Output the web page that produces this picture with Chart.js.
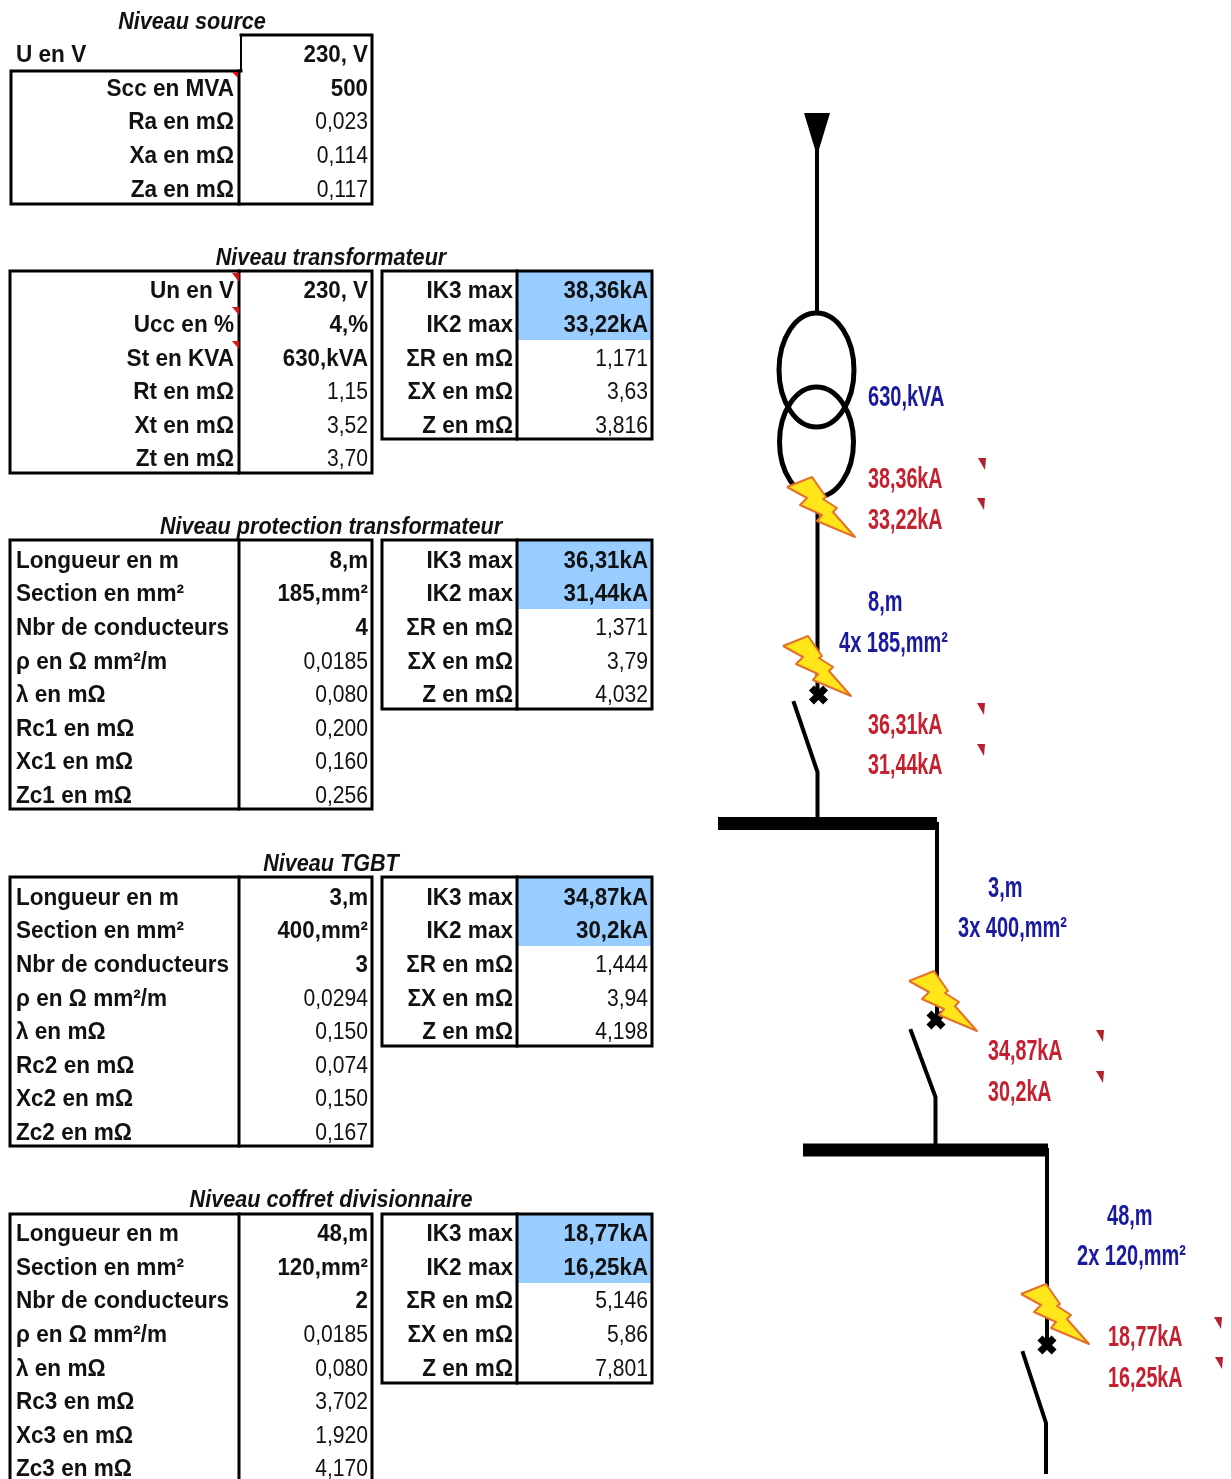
<!DOCTYPE html>
<html><head><meta charset="utf-8">
<style>html,body{margin:0;padding:0;background:#fff}canvas{display:block}</style>
<script src="https://cdn.jsdelivr.net/npm/chart.js@4/dist/chart.umd.js"></script>
</head><body><canvas id="c" width="1231" height="1479"></canvas>
<script>
// ---- table contents ----
const sourceLabels=["U en V","Scc en MVA","Ra en mΩ","Xa en mΩ","Za en mΩ"];
const sourceValues=["230, V","500","0,023","0,114","0,117"];
const transfoLabels=["Un en V","Ucc en %","St en KVA","Rt en mΩ","Xt en mΩ","Zt en mΩ"];
const transfoValues=["230, V","4,%","630,kVA","1,15","3,52","3,70"];
const protLabels=["Longueur en m","Section en mm²","Nbr de conducteurs","ρ en Ω mm²/m","λ en mΩ","Rc1 en mΩ","Xc1 en mΩ","Zc1 en mΩ"];
const protValues=["8,m","185,mm²","4","0,0185","0,080","0,200","0,160","0,256"];
const tgbtLabels=["Longueur en m","Section en mm²","Nbr de conducteurs","ρ en Ω mm²/m","λ en mΩ","Rc2 en mΩ","Xc2 en mΩ","Zc2 en mΩ"];
const tgbtValues=["3,m","400,mm²","3","0,0294","0,150","0,074","0,150","0,167"];
const coffretLabels=["Longueur en m","Section en mm²","Nbr de conducteurs","ρ en Ω mm²/m","λ en mΩ","Rc3 en mΩ","Xc3 en mΩ","Zc3 en mΩ"];
const coffretValues=["48,m","120,mm²","2","0,0185","0,080","3,702","1,920","4,170"];
const sumLabels=["IK3 max","IK2 max","ΣR en mΩ","ΣX en mΩ","Z en mΩ"];
const transfoSum=["38,36kA","33,22kA","1,171","3,63","3,816"];
const protSum=["36,31kA","31,44kA","1,371","3,79","4,032"];
const tgbtSum=["34,87kA","30,2kA","1,444","3,94","4,198"];
const coffretSum=["18,77kA","16,25kA","5,146","5,86","7,801"];
const titles=["Niveau source","Niveau transformateur","Niveau protection transformateur","Niveau TGBT","Niveau coffret divisionnaire"];
// ---- row centres, in page units ----
const sourceRows=[54,88,121,155,189];
const transfoRows=[290,324,358,391,425,458];
const protRows=[560,593,627,661,694,728,761,795];
const tgbtRows=[897,930,964,998,1031,1065,1098,1132];
const coffretRows=[1233,1267,1300,1334,1368,1401,1435,1468];
// ---- diagram annotations ----
const blueNotes=[["630,kVA",868,396],["8,m",868,601],["4x 185,mm²",839,642],["3,m",988,887],["3x 400,mm²",958,927],["48,m",1107,1215],["2x 120,mm²",1077,1255]];
const redNotes=[["38,36kA",868,478],["33,22kA",868,519],["36,31kA",868,724],["31,44kA",868,764],["34,87kA",988,1050],["30,2kA",988,1091],["18,77kA",1108,1336],["16,25kA",1108,1377]];
// ---- diagram geometry ----
const tableLines=[
 [[241,35],[372,35],[372,204],[11,204],[11,71],[241,71]],[[239,71],[239,204]],
 [[10,271],[372,271],[372,473],[10,473],[10,271]],[[239,271],[239,473]],
 [[382,271],[652,271],[652,439],[382,439],[382,271]],[[517,271],[517,439]],
 [[10,540],[372,540],[372,809],[10,809],[10,540]],[[239,540],[239,809]],
 [[382,540],[652,540],[652,709],[382,709],[382,540]],[[517,540],[517,709]],
 [[10,877],[372,877],[372,1146],[10,1146],[10,877]],[[239,877],[239,1146]],
 [[382,877],[652,877],[652,1046],[382,1046],[382,877]],[[517,877],[517,1046]],
 [[10,1480],[10,1214],[372,1214],[372,1480]],[[239,1214],[239,1480]],
 [[382,1214],[652,1214],[652,1383],[382,1383],[382,1214]],[[517,1214],[517,1383]]
];
const blueCells=[[518,272,651,340],[518,541,651,609],[518,878,651,946],[518,1215,651,1283]];
const wires=[
 [[817,150],[817,312]],[[817.5,497],[817.5,695]],
 [[794,703],[817.5,772],[817.5,818]],
 [[937,824],[937,1020]],[[911,1031],[935.5,1097],[935.5,1145]],
 [[1047,1150],[1047,1345]],[[1023,1353],[1046,1423],[1046,1472]]
];
const busbars=[[[718,823.5],[937,823.5]],[[803,1150],[1048,1150]]];
const feedTriangle=[[804,113],[830,113],[817,156],[804,113]];
const thinLines=[[[241,35],[241,70]]];
const ellipses=[[816.5,370,37.5,57],[816.5,442,37,55]];
const boltShape=[[787,487],[812,477],[826,497],[823,499],[837,508],[833,512],[855,537],[817,521],[822,515],[800,505],[807,498],[787,487]];
const boltOffsets=[[0,0],[-4,159],[122,494],[234,807]];
const crosses=[[818.5,695],[936,1020],[1047,1345]];
const markShape=[[0,0],[8,0],[7,12],[0,0]];
const markOrigins=[[978,458],[977,498],[977,703],[977,744],[1096,1030],[1096,1071],[1214,1317],[1215,1357]];
const cellTicks=[[[232,273],[239,273],[239,282],[232,273]],[[232,307],[239,307],[239,315],[232,307]],[[232,341],[239,341],[239,349],[232,341]],[[232,72],[238,72],[238,78],[232,72]]];

const pts=a=>a.map(p=>({x:p[0],y:p[1]}));
const line=(a,w,c,cap)=>({type:'scatter',data:pts(a),showLine:true,borderColor:c||'#000',borderWidth:w,pointRadius:0,fill:false,tension:0,borderCapStyle:cap||'square',borderJoinStyle:'miter'});
const poly=(a,f,c,w)=>({type:'scatter',data:pts(a),showLine:true,backgroundColor:f,borderColor:c||f,borderWidth:w||0,pointRadius:0,fill:'shape',tension:0,borderJoinStyle:'round'});

// paint order: first listed is at the back
const layers=[];
blueCells.forEach(b=>layers.push(poly([[b[0],b[1]],[b[2],b[1]],[b[2],b[3]],[b[0],b[3]],[b[0],b[1]]],'#99CCFF')));
tableLines.forEach(a=>layers.push(line(a,3)));
thinLines.forEach(a=>layers.push(line(a,2)));
cellTicks.forEach(a=>layers.push(poly(a,'#E01010')));
wires.forEach(a=>layers.push(line(a,4)));
busbars.forEach(a=>layers.push(line(a,13,'#000','butt')));
layers.push(poly(feedTriangle,'#000'));
layers.push({type:'scatter',data:pts(crosses),showLine:false,pointStyle:'crossRot',pointRadius:10,borderWidth:7,borderColor:'#000',backgroundColor:'#000'});
boltOffsets.forEach(o=>layers.push(poly(boltShape.map(p=>[p[0]+o[0],p[1]+o[1]]),'#FFE51A','#E5702A',2)));
markOrigins.forEach(o=>layers.push(poly(markShape.map(p=>[p[0]+o[0],p[1]+o[1]]),'#B3202E')));

const BOLD='bold 24px "Liberation Sans"', REG='24px "Liberation Sans"', TITLE='italic bold 24px "Liberation Sans"', NOTE='bold 29px "Liberation Sans"';
const texts=[];
const T=(t,x,y,align,font,sx,color)=>texts.push({t,x,y,align,font,sx,color:color||'#111'});
const LBL=0.94, BVAL=0.93, RVAL=0.88;
titles.forEach((t,i)=>T(t,[192,331,331,331,331][i],[21,257,526,863,1199][i],'center',TITLE,0.9));
T(sourceLabels[0],16,sourceRows[0],'left',BOLD,LBL);
sourceLabels.slice(1).forEach((t,i)=>T(t,234,sourceRows[i+1],'right',BOLD,LBL));
const V=(t,x,y,b)=>T(t,x,y,'right',b?BOLD:REG,b?BVAL:RVAL);
sourceValues.forEach((t,i)=>V(t,368,sourceRows[i],i<2));
transfoLabels.forEach((t,i)=>T(t,234,transfoRows[i],'right',BOLD,LBL));
transfoValues.forEach((t,i)=>V(t,368,transfoRows[i],i<3));
[[protLabels,protValues,protSum,protRows],[tgbtLabels,tgbtValues,tgbtSum,tgbtRows],[coffretLabels,coffretValues,coffretSum,coffretRows]].forEach(g=>{
  g[0].forEach((t,i)=>T(t,16,g[3][i],'left',BOLD,LBL));
  g[1].forEach((t,i)=>V(t,368,g[3][i],i<3));
  sumLabels.forEach((t,i)=>T(t,513,g[3][i],'right',BOLD,LBL));
  g[2].forEach((t,i)=>V(t,648,g[3][i],i<2));
});
sumLabels.forEach((t,i)=>T(t,513,transfoRows[i],'right',BOLD,LBL));
transfoSum.forEach((t,i)=>V(t,648,transfoRows[i],i<2));
blueNotes.forEach(n=>T(n[0],n[1],n[2],'left',NOTE,0.69,'#1A1A9E'));
redNotes.forEach(n=>T(n[0],n[1],n[2],'left',NOTE,0.68,'#C4202F'));

const drawExtras={id:'drawExtras',
 afterDatasetsDraw(ch){
  const c=ch.ctx,X=ch.scales.x,Y=ch.scales.y;
  texts.forEach(o=>{
    c.save();c.font=o.font;c.fillStyle=o.color;c.textAlign=o.align;c.textBaseline='alphabetic';
    c.translate(X.getPixelForValue(o.x),Y.getPixelForValue(o.y)+7.5+(o.font===NOTE?2:0));
    c.scale(o.sx,1);c.fillText(o.t,0,0);c.restore();
  });
 },
 beforeDatasetsDraw(ch){
  const c=ch.ctx,X=ch.scales.x,Y=ch.scales.y;
  c.save();c.strokeStyle='#000';c.lineWidth=5;
  ellipses.forEach(e=>{c.beginPath();c.ellipse(X.getPixelForValue(e[0]),Y.getPixelForValue(e[1]),e[2],e[3],0,0,Math.PI*2);c.stroke();});
  c.restore();
 }
};
new Chart(document.getElementById('c'),{
 type:'scatter',
 data:{datasets:layers.reverse()},
 options:{responsive:false,animation:false,events:[],
  layout:{padding:0,autoPadding:false},
  plugins:{legend:{display:false},tooltip:{enabled:false},title:{display:false}},
  scales:{
   x:{type:'linear',min:0,max:1231,display:false},
   y:{type:'linear',min:0,max:1479,reverse:true,display:false}
  }
 },
 plugins:[drawExtras]
});
</script></body></html>
